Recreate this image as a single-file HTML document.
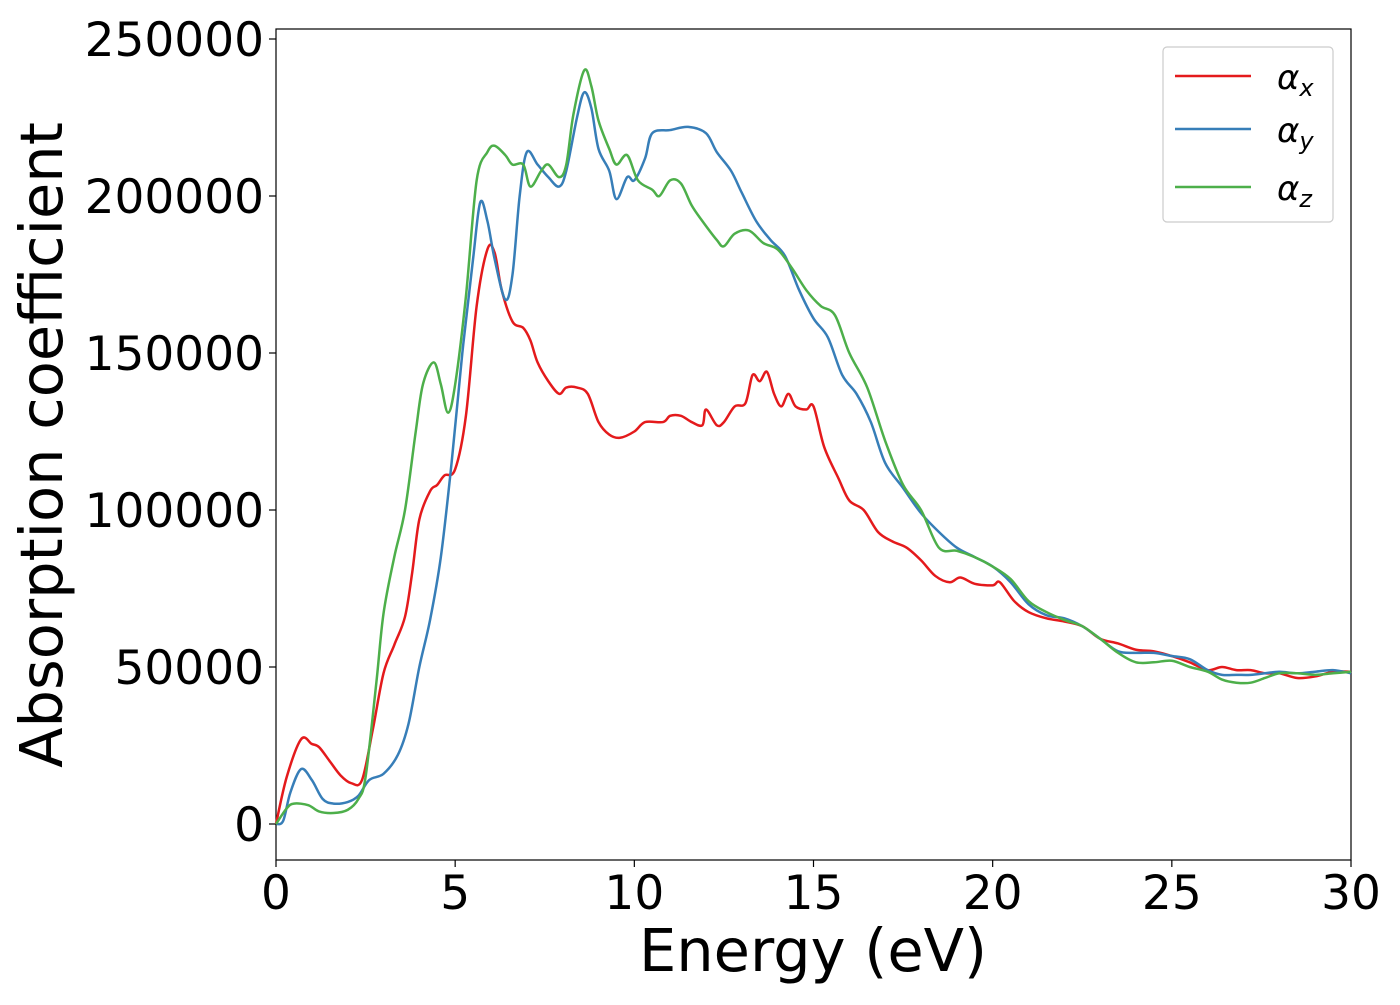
<!DOCTYPE html>
<html><head><meta charset="utf-8"><style>
body{margin:0;background:#fff}
svg text{font-family:"DejaVu Sans","Liberation Sans",sans-serif;fill:#000}
</style></head><body>
<svg id="chart" width="1400" height="1000" xmlns="http://www.w3.org/2000/svg">
<rect x="276" y="29" width="1075" height="831" fill="#fff" stroke="#000" stroke-width="1.2"/>
<g id="xticks"></g><g id="yticks"></g><g id="lines"></g>
<text x="813" y="971" font-size="59" text-anchor="middle">Energy (eV)</text>
<text transform="translate(62,445) rotate(-90)" font-size="59" text-anchor="middle">Absorption coefficient</text>
<g>
<rect x="1163" y="47" width="170" height="175" rx="4" fill="#fff" stroke="#ccc" stroke-width="1.2"/>
<line x1="1175" y1="76" x2="1251" y2="76" stroke="#e41a1c" stroke-width="2.5"/>
<text x="1277" y="89" font-size="34" font-style="italic">α<tspan font-size="24" dy="7">x</tspan></text>
<line x1="1175" y1="129" x2="1251" y2="129" stroke="#377eb8" stroke-width="2.5"/>
<text x="1277" y="142" font-size="34" font-style="italic">α<tspan font-size="24" dy="7">y</tspan></text>
<line x1="1175" y1="187" x2="1251" y2="187" stroke="#4daf4a" stroke-width="2.5"/>
<text x="1277" y="200" font-size="34" font-style="italic">α<tspan font-size="24" dy="7">z</tspan></text>
</g>
</svg>
<script>
const xTickVals=[0,5,10,15,20,25,30];
const yTickVals=[0,50000,100000,150000,200000,250000];
const energyX=[0,0.3,0.7,1.0,1.2,1.5,1.8,2.1,2.4,2.7,3.0,3.3,3.6,3.8,4.0,4.3,4.5,4.7,5.0,5.3,5.6,5.9,6.1,6.3,6.6,6.9,7.1,7.3,7.6,7.9,8.1,8.4,8.7,9.0,9.3,9.6,10.0,10.3,10.8,11.0,11.3,11.6,11.9,12.0,12.3,12.5,12.8,13.1,13.3,13.5,13.7,13.9,14.1,14.3,14.5,14.8,15.0,15.3,15.7,16.0,16.4,16.8,17.2,17.6,18.0,18.4,18.8,19.1,19.5,20.0,20.2,20.6,21.0,21.5,22.0,22.5,23.0,23.5,24.0,24.5,25.0,25.5,26.0,26.4,26.8,27.2,27.6,28.0,28.5,29.0,29.5,30.0];
const alphaX=[0,15000,27000,25500,24500,20000,15500,13000,14000,30000,48000,57000,66000,80000,97000,106000,108000,111000,113000,130000,165000,183000,182000,170000,160000,158000,154000,147000,141000,137000,139000,139000,137000,128000,124000,123000,125000,128000,128000,130000,130000,128000,127000,132000,127000,128000,133000,134000,143000,141000,144000,137000,133000,137000,133000,132000,133000,120000,110000,103000,100000,93000,90000,88000,84000,79000,77000,78500,76500,76000,77000,71000,67500,65500,64500,63000,59000,57500,55500,55000,53500,51500,49000,50000,49000,49000,48000,48000,46500,47000,48500,48500];
const energyY=[0,0.2,0.4,0.7,1.0,1.3,1.6,2.0,2.3,2.6,3.0,3.4,3.7,4.0,4.3,4.6,4.9,5.2,5.5,5.7,5.9,6.1,6.4,6.6,6.8,7.0,7.3,7.6,7.9,8.1,8.4,8.6,8.8,9.0,9.3,9.5,9.8,10.0,10.3,10.5,11.0,11.5,12.0,12.3,12.7,13.0,13.4,13.8,14.2,14.6,15.0,15.4,15.8,16.2,16.6,17.0,17.5,18.0,18.5,19.0,19.5,20.0,20.5,21.0,21.5,22.0,22.5,23.0,23.5,24.0,24.5,25.0,25.5,26.0,26.4,26.8,27.2,27.6,28.0,28.5,29.0,29.5,30.0];
const alphaY=[0,1000,10000,17500,14000,8000,6500,7000,9000,14000,16000,22000,32000,50000,65000,85000,115000,150000,180000,198000,192000,180000,167000,175000,200000,214000,210000,206000,203000,208000,225000,233000,228000,215000,208000,199000,206000,205000,212000,220000,221000,222000,220000,214000,208000,201000,192000,186000,181000,170000,161000,155000,143000,137000,128000,115000,107000,99000,93000,88000,85000,82000,77000,70000,66500,65500,63000,59000,55000,54500,54500,53500,52500,49000,47500,47500,47500,48000,48500,48000,48500,49000,48000];
const energyZ=[0,0.3,0.5,0.9,1.2,1.6,2.0,2.3,2.5,2.8,3.0,3.3,3.6,3.9,4.1,4.4,4.6,4.8,5.0,5.3,5.6,5.9,6.1,6.4,6.6,6.9,7.1,7.4,7.6,7.9,8.1,8.3,8.6,8.8,9.0,9.3,9.5,9.8,10.1,10.5,10.7,11.0,11.3,11.6,11.9,12.3,12.5,12.8,13.2,13.6,14.0,14.4,14.8,15.2,15.6,16.0,16.5,17.0,17.5,18.0,18.5,19.0,19.5,20.0,20.5,21.0,21.5,22.0,22.5,23.0,23.5,24.0,24.5,25.0,25.5,26.0,26.4,26.8,27.2,27.6,28.0,28.5,29.0,29.5,30.0];
const alphaZ=[0,5000,6500,6000,4000,3500,4500,8000,15000,45000,67000,85000,100000,125000,140000,147000,140000,131000,140000,168000,205000,214000,216000,213000,210000,210000,203000,208000,210000,206000,210000,226000,240000,235000,224000,215000,210000,213000,205000,202000,200000,205000,204000,197000,192000,186000,184000,188000,189000,185000,183000,177000,170000,165000,162000,150000,139000,122000,108000,100000,88000,87000,85000,82000,78000,71000,67500,65000,63000,59000,54500,51500,51500,52000,50000,48500,46000,45000,45000,46500,48000,48000,47500,48000,48500];

const NS='http://www.w3.org/2000/svg';
const xS=v=>276+v*(1075/30);
const yS=v=>824-v*(785/250000);
const xt=document.getElementById('xticks'), yt=document.getElementById('yticks'), lg=document.getElementById('lines');
function mk(tag,attrs,parent){const e=document.createElementNS(NS,tag);for(const k in attrs)e.setAttribute(k,attrs[k]);parent.appendChild(e);return e;}
xTickVals.forEach(v=>{
  const l=mk('line',{x1:xS(v),x2:xS(v),y1:860,y2:867,stroke:'#000','stroke-width':1.2},xt);
  
  
  const t=mk('text',{x:xS(v),y:909,'font-size':47,'text-anchor':'middle'},xt);t.textContent=v;
  
  
});
yTickVals.forEach(v=>{
  const l=mk('line',{x1:269,x2:276,y1:yS(v),y2:yS(v),stroke:'#000','stroke-width':1.2},yt);
  
  
  const t=mk('text',{x:264,y:yS(v)+17,'font-size':47,'text-anchor':'end'},yt);t.textContent=v;
  
  
});
function path(xs,ys){
  const p=xs.map((x,i)=>[xS(x),yS(ys[i])]);
  let d='M'+p[0][0]+','+p[0][1];
  for(let i=0;i<p.length-1;i++){
    const p0=p[Math.max(0,i-1)],p1=p[i],p2=p[i+1],p3=p[Math.min(p.length-1,i+2)];
    const c1=[p1[0]+(p2[0]-p0[0])/6,p1[1]+(p2[1]-p0[1])/6];
    const c2=[p2[0]-(p3[0]-p1[0])/6,p2[1]-(p3[1]-p1[1])/6];
    d+=' C'+c1+' '+c2+' '+p2;
  }
  return d;
}
const series=[[energyX,alphaX,'#e41a1c','series-alpha-x'],[energyY,alphaY,'#377eb8','series-alpha-y'],[energyZ,alphaZ,'#4daf4a','series-alpha-z']];
series.forEach(s=>{
  const e=mk('path',{d:path(s[0],s[1]),fill:'none',stroke:s[2],'stroke-width':2.5},lg);
  
  
});
</script>
</body></html>
